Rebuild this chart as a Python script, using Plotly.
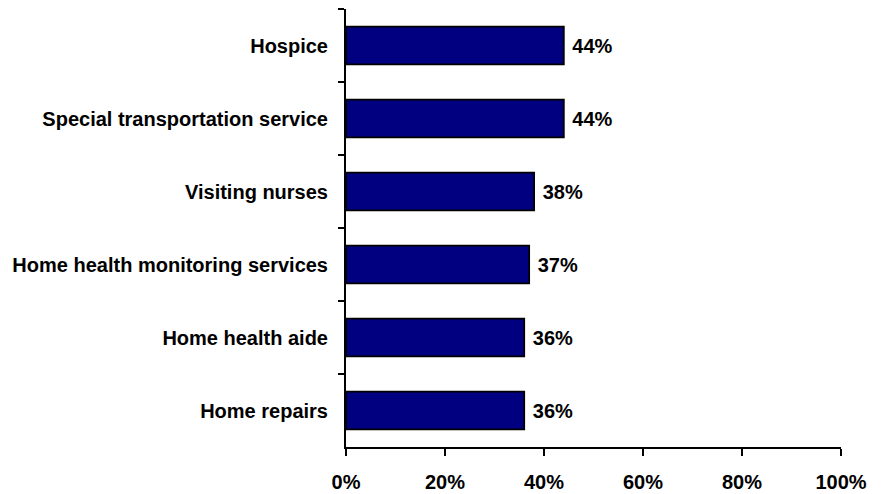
import plotly.graph_objects as go

categories = ["Hospice", "Special transportation service", "Visiting nurses",
              "Home health monitoring services", "Home health aide", "Home repairs"]
values = [44, 44, 38, 37, 36, 36]
value_labels = ["44%", "44%", "38%", "37%", "36%", "36%"]
x_tickvals = [0, 20, 40, 60, 80, 100]
x_ticktext = ["0%", "20%", "40%", "60%", "80%", "100%"]

FONT = dict(family="Liberation Sans, Arial, sans-serif", size=20, color="black", weight="bold")

fig = go.Figure(go.Bar(
    y=categories, x=values, orientation="h",
    marker=dict(color="#000080", line=dict(color="black", width=1.8)),
    text=[" " + t for t in value_labels], textposition="outside", cliponaxis=False,
    textfont=FONT,
))

# page body has an 8px margin, so the figure is sized to fit the 882x494 window
fig.update_layout(
    width=874, height=486,
    margin=dict(l=338, r=41, t=1, b=47),
    paper_bgcolor="white", plot_bgcolor="white",
    font=FONT, showlegend=False, bargap=0.485,
)
fig.update_xaxes(
    range=[0, 100], tickvals=x_tickvals, ticktext=x_ticktext,
    showgrid=False, zeroline=False, showline=True, linecolor="black", linewidth=2,
    ticks="outside", ticklen=7, tickwidth=2, tickcolor="black",
    tickfont=FONT, ticklabelstandoff=9, automargin=False,
)
fig.update_yaxes(
    categoryorder="array", categoryarray=categories, autorange=False, range=[5.5, -0.5],
    showgrid=False, zeroline=False, showline=True, linecolor="black", linewidth=2,
    ticks="outside", ticklen=6, tickwidth=2, tickcolor="black", tickson="boundaries",
    tickfont=FONT, ticklabelstandoff=12, automargin=False,
)

fig.write_html("out.html")
